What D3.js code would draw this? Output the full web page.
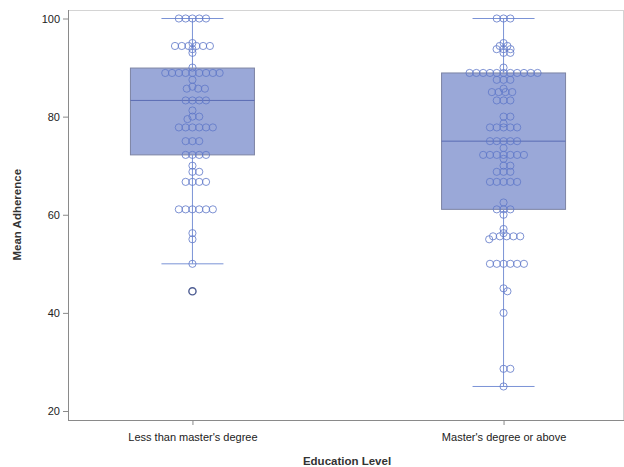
<!DOCTYPE html>
<html>
<head>
<meta charset="utf-8">
<script src="https://cdn.jsdelivr.net/npm/d3@7"></script>
<style>
  body { margin: 0; background: #fff; }
  svg { display: block; font-family: "Liberation Sans", Arial, sans-serif; }
</style>
</head>
<body>
<svg id="chart" width="624" height="467"></svg>
<script>
// Groups on the x axis
const categories = ["Less than master's degree", "Master's degree or above"];

// Mean adherence of each respondent, per group
const lessThanMasters = [
  100, 100, 100, 100, 100,
  95, 94.4, 94.4, 94.4, 94.4, 94.4, 94.4, 93.75, 93,
  90, 88.9, 88.9, 88.9, 88.9, 88.9, 88.9, 88.9, 88.9, 88.9,
  87.5, 86.1, 85.7, 85.7, 85.7,
  83.3, 83.3, 83.3, 83.3,
  81.25, 80, 80, 79.5,
  77.8, 77.8, 77.8, 77.8, 77.8, 77.8,
  75, 75, 75,
  72.2, 72.2, 72.2, 72.2,
  70, 68.75, 68.75,
  66.7, 66.7, 66.7, 66.7,
  61.1, 61.1, 61.1, 61.1, 61.1, 61.1,
  56.25, 55, 50, 44.4
];
const mastersOrAbove = [
  100, 100, 100,
  95, 94.4, 94.4, 93.75, 93.75, 93.75, 93, 93,
  90, 88.9, 88.9, 88.9, 88.9, 88.9, 88.9, 88.9, 88.9, 88.9, 88.9, 88.9,
  87.5, 87.5, 87.5,
  85.7, 85, 85, 85, 85,
  83.3, 83.3, 83.3,
  80, 80, 78.6,
  77.8, 77.8, 77.8, 77.8, 77.8,
  75, 75, 75, 75, 75,
  73.6, 72.2, 72.2, 72.2, 72.2, 72.2, 72.2, 72.2,
  71.4, 70, 70,
  68.75, 68.75, 68.75,
  66.7, 66.7, 66.7, 66.7, 66.7,
  62.5, 61.1, 61.1, 61.1, 60,
  57.1, 56.25, 55.6, 55.6, 55.6, 55.6, 55.6, 55,
  50, 50, 50, 50, 50, 50,
  45, 44.4, 40, 28.6, 28.6, 25
];

// Box statistics per group
const q1 = [72.2, 61.1];
const medians = [83.3, 75];
const q3 = [89.9, 88.9];
const whiskerLow = [50, 25];
const whiskerHigh = [100, 100];

// Axis tick values
const yTicks = [20, 40, 60, 80, 100];

const groups = [lessThanMasters, mastersOrAbove];

const svg = d3.select("#chart");
const plot = { left: 68, right: 623, top: 10, bottom: 420 };

const x = d3.scalePoint().domain(categories).range([plot.left, 628]).padding(0.4);
const y = d3.scaleLinear().domain([20, 100]).range([411, 18.5]);

const boxWidth = 124;
const capWidth = 62;
const r = 3.6;
const spacing = 6.8;
const verticalWeight = 1.9;   // points a few pixels apart vertically may overlap

// Frame
svg.append("line").attr("x1", plot.left).attr("x2", plot.right)
  .attr("y1", plot.top + 0.5).attr("y2", plot.top + 0.5)
  .attr("stroke", "#d4d4d4").attr("stroke-width", 1);
svg.append("line").attr("x1", plot.right + 0.5).attr("x2", plot.right + 0.5)
  .attr("y1", plot.top).attr("y2", plot.bottom)
  .attr("stroke", "#d4d4d4").attr("stroke-width", 1);

// Axes
const yAxis = svg.append("g")
  .attr("transform", `translate(${plot.left},0)`)
  .call(d3.axisLeft(y).tickValues(yTicks).tickSize(5).tickPadding(3).tickSizeOuter(0));
yAxis.select(".domain").attr("d", `M0.5,${plot.top}V${plot.bottom}`).attr("stroke", "#8a8a8a");
yAxis.selectAll(".tick line").attr("stroke", "#8a8a8a");
yAxis.selectAll(".tick text").attr("fill", "#222").style("font-size", "11px")
  .style("font-family", "'Liberation Sans', Arial, sans-serif");

const xAxis = svg.append("g")
  .attr("transform", `translate(0,${plot.bottom})`)
  .call(d3.axisBottom(x).tickSize(5).tickPadding(8).tickSizeOuter(0));
xAxis.select(".domain").attr("d", `M${plot.left},0.5H624`).attr("stroke", "#8a8a8a");
xAxis.selectAll(".tick line").attr("stroke", "#8a8a8a");
xAxis.selectAll(".tick text").attr("fill", "#222").style("font-size", "11px")
  .style("font-family", "'Liberation Sans', Arial, sans-serif");

// Axis titles
svg.append("text")
  .attr("x", 347).attr("y", 465)
  .attr("text-anchor", "middle")
  .attr("fill", "#333").style("font-size", "11.5px").style("font-weight", "bold")
  .text("Education Level");
svg.append("text")
  .attr("transform", `translate(21,${y(60)}) rotate(-90)`)
  .attr("text-anchor", "middle")
  .attr("fill", "#333").style("font-size", "11.5px").style("font-weight", "bold")
  .text("Mean Adherence");

// Boxes, whiskers and medians
categories.forEach((c, i) => {
  const cx = x(c);
  const g = svg.append("g");
  g.append("rect")
    .attr("x", cx - boxWidth / 2).attr("width", boxWidth)
    .attr("y", y(q3[i])).attr("height", y(q1[i]) - y(q3[i]))
    .attr("fill", "#9aa8d8").attr("stroke", "#7d84a3").attr("stroke-width", 1);
  g.append("line").attr("x1", cx).attr("x2", cx)
    .attr("y1", y(q3[i])).attr("y2", y(whiskerHigh[i]))
    .attr("stroke", "#7b93d6");
  g.append("line").attr("x1", cx).attr("x2", cx)
    .attr("y1", y(q1[i])).attr("y2", y(whiskerLow[i]))
    .attr("stroke", "#7b93d6");
  [whiskerHigh[i], whiskerLow[i]].forEach(v => {
    g.append("line").attr("x1", cx - capWidth / 2).attr("x2", cx + capWidth / 2)
      .attr("y1", y(v)).attr("y2", y(v)).attr("stroke", "#7b93d6");
  });
  g.append("line").attr("x1", cx - boxWidth / 2).attr("x2", cx + boxWidth / 2)
    .attr("y1", y(medians[i])).attr("y2", y(medians[i]))
    .attr("stroke", "#5a6cb4").attr("stroke-width", 1);
});

// Swarm layout: each point takes the free position closest to the centre line
function swarm(values) {
  const pts = values.map(v => ({ v, py: y(v), dx: 0 })).sort((a, b) => b.v - a.v);
  const placed = [];
  const D2 = spacing * spacing;
  for (const p of pts) {
    const cands = [0];
    for (const q of placed) {
      const dy = Math.abs(q.py - p.py) * verticalWeight;
      if (dy < spacing) {
        const h = Math.sqrt(D2 - dy * dy);
        cands.push(q.dx + h, q.dx - h);
      }
    }
    cands.sort((a, b) => Math.abs(a) - Math.abs(b) || b - a);
    for (const c of cands) {
      const ok = placed.every(q => {
        const dy = (q.py - p.py) * verticalWeight;
        return (q.dx - c) ** 2 + dy * dy >= D2 - 0.01;
      });
      if (ok) { p.dx = c; break; }
    }
    placed.push(p);
  }
  return pts;
}

categories.forEach((c, i) => {
  const cx = x(c);
  const pts = swarm(groups[i]);
  const iqr = q3[i] - q1[i];
  const isOutlier = d => d.v < q1[i] - 1.5 * iqr || d.v > q3[i] + 1.5 * iqr;
  svg.append("g").selectAll("circle")
    .data(pts)
    .join("circle")
    .attr("cx", d => cx + d.dx)
    .attr("cy", d => d.py)
    .attr("r", r)
    .attr("fill", "none")
    .attr("stroke", d => isOutlier(d) ? "#3a4a86" : "#5f78c8")
    .attr("stroke-width", d => isOutlier(d) ? 1.4 : 0.9)
    .attr("stroke-opacity", 0.9);
});
</script>
</body>
</html>
